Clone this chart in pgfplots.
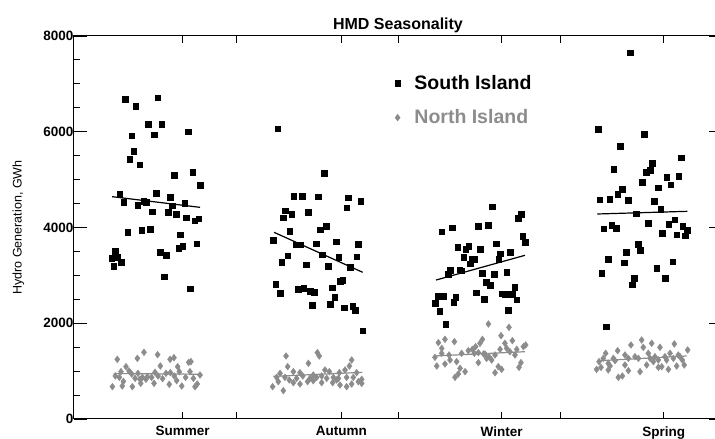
\documentclass[border=0pt]{standalone}
\usepackage{pgfplots}
\pgfplotsset{compat=1.18}
\usepackage{pgfplotstable}
\usepackage{fontspec}
\setmainfont{Liberation Sans}
\definecolor{nigrey}{HTML}{8C8C8C}

% Monthly hydro generation (GWh); x = season slot (0-4), jittered inside the slot
\pgfplotstableread{
x y
0.315 6677
0.381 6538
0.516 6712
0.457 6162
0.541 6162
0.706 6002
0.356 5918
0.494 5939
0.368 5591
0.344 5431
0.405 5313
0.619 5090
0.733 5159
0.780 4888
0.282 4700
0.307 4526
0.506 4714
0.593 4630
0.393 4470
0.430 4554
0.447 4526
0.605 4456
0.683 4505
0.481 4331
0.580 4317
0.632 4275
0.693 4205
0.745 4143
0.770 4185
0.331 3899
0.418 3948
0.469 3969
0.654 3850
0.757 3662
0.646 3572
0.671 3607
0.255 3509
0.233 3363
0.267 3377
0.292 3279
0.245 3189
0.531 3488
0.570 3419
0.556 2973
0.716 2722
1.257 6064
1.545 5138
1.356 4658
1.407 4651
1.506 4644
1.693 4623
1.770 4547
1.683 4414
1.305 4352
1.344 4282
1.292 4205
1.444 4317
1.331 3920
1.519 3955
1.556 4024
1.230 3739
1.368 3641
1.397 3641
1.496 3662
1.619 3704
1.755 3655
1.319 3412
1.531 3433
1.634 3384
1.745 3391
1.282 3279
1.432 3224
1.570 3189
1.706 3168
1.245 2813
1.272 2632
1.383 2709
1.418 2736
1.457 2674
1.484 2646
1.595 2743
1.644 2883
1.658 2897
1.609 2541
1.471 2374
1.582 2395
1.669 2325
1.720 2353
1.735 2277
1.782 1845
2.582 4435
2.759 4282
2.743 4198
2.270 3913
2.333 3997
2.494 4024
2.558 4052
2.770 3823
2.784 3690
2.368 3593
2.418 3544
2.436 3607
2.508 3551
2.607 3662
2.693 3481
2.632 3453
2.405 3384
2.459 3335
2.473 3342
2.444 3245
2.621 3335
2.321 3112
2.309 3029
2.381 3119
2.393 3098
2.519 3050
2.593 3022
2.671 3064
2.545 2855
2.570 2799
2.720 2757
2.245 2569
2.280 2569
2.230 2416
2.356 2541
2.344 2444
2.481 2639
2.533 2507
2.642 2618
2.663 2604
2.706 2611
2.733 2493
2.257 2249
2.681 2277
2.294 1984
3.432 7652
3.235 6058
3.521 5953
3.370 5702
3.747 5459
3.331 5222
3.570 5340
3.533 5159
3.558 5194
3.658 5048
3.733 5076
3.506 4950
3.683 4895
3.607 4832
3.383 4797
3.356 4700
3.245 4581
3.307 4588
3.422 4568
3.580 4547
3.621 4386
3.471 4289
3.270 3976
3.319 4052
3.346 3983
3.545 4094
3.671 4066
3.708 4164
3.757 4024
3.786 3941
3.632 3878
3.720 3850
3.772 3829
3.484 3655
3.494 3530
3.410 3488
3.296 3335
3.395 3265
3.695 3286
3.257 3043
3.597 3147
3.459 2945
3.648 2945
3.444 2806
3.284 1929
}\southisland

\pgfplotstableread{
x y
0.267 1246
0.432 1393
0.391 1267
0.516 1344
0.593 1246
0.617 1281
0.708 1184
0.722 1198
0.321 1093
0.533 1107
0.640 1093
0.290 989
0.340 1003
0.356 940
0.395 954
0.422 870
0.453 884
0.500 975
0.568 954
0.595 968
0.650 989
0.716 989
0.778 919
0.255 898
0.280 870
0.377 849
0.407 829
0.479 870
0.519 898
0.547 842
0.619 898
0.689 870
0.737 849
0.237 675
0.298 689
0.360 675
0.412 745
0.444 829
0.494 745
0.588 724
0.634 801
0.665 689
0.747 675
0.761 731
0.305 787
1.309 1316
1.502 1386
1.514 1316
1.319 1093
1.447 1163
1.714 1232
1.700 1107
1.272 954
1.354 989
1.395 968
1.477 919
1.549 1024
1.576 989
1.638 968
1.673 1024
1.745 968
1.251 870
1.302 870
1.329 815
1.374 849
1.412 898
1.457 849
1.498 870
1.529 898
1.560 849
1.601 870
1.632 849
1.683 870
1.724 870
1.776 829
1.226 675
1.292 592
1.354 759
1.395 731
1.442 780
1.477 801
1.529 759
1.597 759
1.642 710
1.683 675
1.714 731
1.755 780
1.776 745
1.261 780
1.621 815
2.558 1984
2.685 1915
2.636 1741
2.706 1636
2.660 1581
2.290 1664
2.348 1615
2.521 1664
2.506 1581
2.249 1594
2.270 1476
2.270 1372
2.228 1288
2.315 1337
2.393 1372
2.434 1427
2.459 1455
2.479 1511
2.496 1386
2.537 1358
2.562 1302
2.599 1337
2.630 1455
2.671 1476
2.691 1406
2.733 1455
2.774 1511
2.788 1546
2.722 1337
2.239 1107
2.290 1149
2.321 1232
2.362 1198
2.383 1058
2.414 989
2.471 1372
2.496 1177
2.547 1267
2.578 1232
2.619 1093
2.640 1037
2.599 968
2.747 1079
2.759 1177
2.352 870
2.372 940
2.528 1358
3.504 1650
3.438 1546
3.566 1581
3.706 1567
3.788 1441
3.282 1372
3.356 1427
3.401 1337
3.329 1267
3.463 1302
3.514 1497
3.545 1372
3.617 1497
3.679 1372
3.730 1337
3.241 1198
3.267 1267
3.298 1163
3.340 1218
3.422 1267
3.484 1267
3.556 1267
3.607 1232
3.648 1302
3.700 1267
3.755 1232
3.226 1037
3.253 1079
3.309 1107
3.401 1128
3.535 1128
3.576 1198
3.628 1093
3.669 1037
3.720 1107
3.767 1128
3.360 870
3.385 898
3.422 1010
3.494 989
3.607 1079
3.658 1232
3.298 1024
3.741 1302
3.586 1302
}\northisland

\begin{document}
\begin{tikzpicture}
\begin{axis}[
  scale only axis, width=648pt, height=383pt,
  xmin=0, xmax=4, ymin=0, ymax=8000,
  axis line style={line width=1pt},
  tick align=inside,
  tick style={black, line width=0.9pt},
  major tick length=13pt, minor tick length=6pt,
  xtick pos=both, ytick pos=both,
  xtick={1,2,3}, xticklabels={,,},
  xtick style={/pgfplots/major tick length=7pt},
  extra x ticks={0.67,1.65,2.64,3.64},
  extra x tick labels={Summer,Autumn,Winter,Spring},
  extra x tick style={grid=none, major tick length=0pt},
  xticklabel style={font=\fontsize{13.5}{16}\selectfont\bfseries, yshift=-4pt},
  ytick={0,2000,4000,6000,8000},
  minor y tick num=3,
  yticklabel pos=left,
  yticklabel style={font=\fontsize{13.5}{16}\selectfont\bfseries, xshift=3pt},
  /pgf/number format/.cd, assume math mode=true, set thousands separator={},
  /pgfplots/.cd,
  ylabel={Hydro Generation, GWh},
  ylabel style={at={(axis description cs:-0.086,0.5)}, anchor=center,
    font=\fontsize{12.5}{15}\selectfont},
  title={HMD Seasonality},
  title style={at={(axis description cs:0.5,1)}, anchor=base, yshift=0pt,
    font=\fontsize{16}{19}\selectfont\bfseries},
  legend style={draw=none, fill=none, inner sep=0pt,
    at={(axis description cs:0.4948,0.832)}, anchor=west,
    font=\fontsize{19.5}{22}\selectfont\bfseries, row sep=15pt, column sep=12pt},
  legend cell align=left,
]
\coordinate (ll) at (rel axis cs:0,0);

\addplot[only marks, mark=square*, mark size=2.8pt, black] table {\southisland};
\addlegendentry{South Island}
\addplot[only marks, mark=diamond*, mark size=3.4pt, nigrey, draw=nigrey] table {\northisland};
\addlegendentry{\textcolor{nigrey}{North Island}}

% seasonal trend lines
\addplot[nigrey, line width=1.2pt, forget plot] coordinates {(0.245,950) (0.780,935)};
\addplot[nigrey, line width=1.2pt, forget plot] coordinates {(1.230,890) (1.780,975)};
\addplot[nigrey, line width=1.2pt, forget plot] coordinates {(2.224,1316) (2.784,1406)};
\addplot[nigrey, line width=1.2pt, forget plot] coordinates {(3.247,1218) (3.782,1316)};
\addplot[black, line width=1.2pt, forget plot] coordinates {(0.235,4644) (0.778,4421)};
\addplot[black, line width=1.2pt, forget plot] coordinates {(1.235,3899) (1.782,3064)};
\addplot[black, line width=1.2pt, forget plot] coordinates {(2.235,2903) (2.784,3419)};
\addplot[black, line width=1.2pt, forget plot] coordinates {(3.230,4282) (3.786,4338)};
\end{axis}
\pgfresetboundingbox
\path[use as bounding box] ([shift={(-74pt,-20pt)}]ll) rectangle ([shift={(641pt,419pt)}]ll);
\end{tikzpicture}
\end{document}
